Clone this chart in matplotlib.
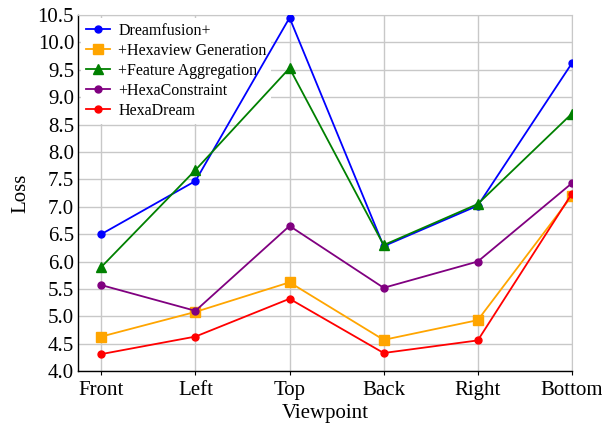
import matplotlib.pyplot as plt

plt.rcParams['font.family'] = ['Liberation Serif', 'DejaVu Serif']

viewpoints = ['Front', 'Left', 'Top', 'Back', 'Right', 'Bottom']
dreamfusion = [6.50, 7.47, 10.45, 6.28, 7.02, 9.62]
hexaview = [4.63, 5.08, 5.62, 4.57, 4.93, 7.20]
feature_agg = [5.90, 7.67, 9.53, 6.30, 7.05, 8.70]
hexa_constraint = [5.57, 5.10, 6.65, 5.52, 6.00, 7.43]
hexadream = [4.31, 4.63, 5.32, 4.33, 4.56, 7.24]

series = [
    ('Dreamfusion+', dreamfusion, 'blue', 'o', 5),
    ('+Hexaview Generation', hexaview, 'orange', 's', 7),
    ('+Feature Aggregation', feature_agg, 'green', '^', 7),
    ('+HexaConstraint', hexa_constraint, 'purple', 'o', 5),
    ('HexaDream', hexadream, 'red', 'o', 5),
]

fig, ax = plt.subplots(figsize=(6.02, 4.29), dpi=100)
fig.subplots_adjust(left=0.13, right=0.95, top=0.965, bottom=0.135)

x = list(range(len(viewpoints)))
for label, vals, color, marker, ms in series:
    ax.plot(x, vals, color=color, marker=marker, markersize=ms, linewidth=1.3,
            label=label, zorder=3)

ax.set_xlim(-0.245, 5)
ax.set_ylim(4.0, 10.5)
ax.set_xticks(x)
ax.set_xticklabels(viewpoints)
ax.set_yticks([4.0 + 0.5 * i for i in range(14)])
ax.set_yticklabels([f'{4.0 + 0.5 * i:.1f}' for i in range(14)])
ax.grid(True, color='#c8c8c8', linewidth=1.0)
ax.set_axisbelow(True)

ax.tick_params(axis='x', labelsize=15, length=3, direction='out', pad=4)
ax.tick_params(axis='y', labelsize=15, length=0, pad=3)
ax.set_xlabel('Viewpoint', fontsize=15, labelpad=3)
ax.set_ylabel('Loss', fontsize=15, labelpad=5)

for side in ['top', 'right']:
    ax.spines[side].set_color('#c8c8c8')
for side in ['left', 'bottom']:
    ax.spines[side].set_color('black')
    ax.spines[side].set_linewidth(1.0)

leg = ax.legend(loc='upper left', fontsize=11.5, frameon=True, framealpha=1,
                edgecolor='none', facecolor='white', borderaxespad=0.2,
                handlelength=1.5, handletextpad=0.5, labelspacing=0.25,
                borderpad=0.3)
leg.get_frame().set_boxstyle('square', pad=0)
leg.set_zorder(2.5)

fig.savefig('out.png', dpi=100)
